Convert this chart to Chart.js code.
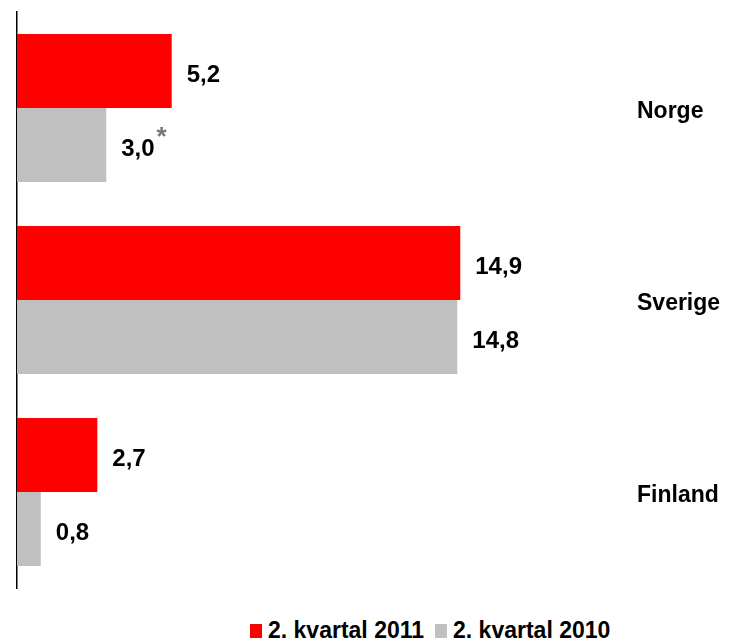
<!DOCTYPE html>
<html>
<head>
<meta charset="utf-8">
<script src="https://cdn.jsdelivr.net/npm/chart.js@4"></script>
<style>
    body { margin: 0; background: #fff; font-family: 'Liberation Sans', Arial, sans-serif; }
    #wrap { position: relative; width: 729px; height: 643px; }
    #box { position: absolute; left: 0; top: 0; width: 729px; height: 600px; }
    #legend { position: absolute; left: 250px; top: 619px; display: flex; font-weight: bold; font-size: 23px; line-height: 23px; color: #000; }
    .item { display: flex; align-items: center; margin-right: 11px; white-space: nowrap; }
    .swatch { width: 12px; height: 14px; margin-right: 6px; }
</style>
</head>
<body>
<div id="wrap">
    <div id="box"><canvas id="chart"></canvas></div>
    <div id="legend"></div>
</div>
<script>
// データ
const countries = ['Norge', 'Sverige', 'Finland'];
const q2_2011 = [5.2, 14.9, 2.7];
const q2_2010 = [3.0, 14.8, 0.8];
const seriesNames = ['2. kvartal 2011', '2. kvartal 2010'];
const notes2010 = ['*', '', ''];
const xMax = 20;

const colors = ['#ff0000', '#c0c0c0'];
const fontFamily = "'Liberation Sans', Arial, sans-serif";

function fmt(v) {
    return v.toFixed(1).replace('.', ',');
}

// 数値ラベル
const valueLabels = {
    id: 'valueLabels',
    afterDatasetsDraw(chart) {
        const ctx = chart.ctx;
        ctx.save();
        ctx.textBaseline = 'middle';
        ctx.textAlign = 'left';
        chart.data.datasets.forEach((ds, i) => {
            const meta = chart.getDatasetMeta(i);
            meta.data.forEach((bar, j) => {
                const text = fmt(ds.data[j]);
                const x = bar.x + 15;
                const y = bar.y + 4;
                ctx.font = 'bold 24px ' + fontFamily;
                ctx.fillStyle = '#000';
                ctx.fillText(text, x, y);
                const note = ds.notes ? ds.notes[j] : '';
                if (note) {
                    const w = ctx.measureText(text).width;
                    ctx.font = 'bold 26px ' + fontFamily;
                    ctx.fillStyle = '#777';
                    ctx.fillText(note, x + w + 2, y - 11);
                }
            });
        });
        ctx.restore();
    }
};

new Chart(document.getElementById('chart'), {
    type: 'bar',
    data: {
        labels: countries,
        datasets: [
            { label: seriesNames[0], data: q2_2011, backgroundColor: colors[0], yAxisID: 'y',
              barPercentage: 1, categoryPercentage: 0.77 },
            { label: seriesNames[1], data: q2_2010, backgroundColor: colors[1], yAxisID: 'y',
              barPercentage: 1, categoryPercentage: 0.77, notes: notes2010 }
        ]
    },
    options: {
        indexAxis: 'y',
        responsive: true,
        maintainAspectRatio: false,
        animation: false,
        layout: { padding: { top: 12, bottom: 12, left: 0, right: 0 } },
        scales: {
            x: { min: 0, max: xMax, display: false },
            y: {
                position: 'left',
                grid: { display: false },
                ticks: { display: false },
                border: { display: true, color: '#000', width: 1.5 },
                afterFit: s => { s.width = 17; s.paddingTop = 0; s.paddingBottom = 0; }
            },
            y2: {
                type: 'category',
                position: 'right',
                labels: countries,
                grid: { display: false },
                border: { display: false },
                ticks: { color: '#000', padding: 17, labelOffset: 4, font: { family: fontFamily, size: 23, weight: 'bold' } },
                afterFit: s => { s.width = 117; s.paddingTop = 0; s.paddingBottom = 0; }
            }
        },
        plugins: {
            legend: { display: false },
            tooltip: { enabled: false }
        }
    },
    plugins: [valueLabels]
});

// 凡例
const legend = document.getElementById('legend');
seriesNames.forEach((name, i) => {
    const item = document.createElement('div');
    item.className = 'item';
    const sw = document.createElement('span');
    sw.className = 'swatch';
    sw.style.background = colors[i];
    const label = document.createElement('span');
    label.textContent = name;
    item.appendChild(sw);
    item.appendChild(label);
    legend.appendChild(item);
});
</script>
</body>
</html>
